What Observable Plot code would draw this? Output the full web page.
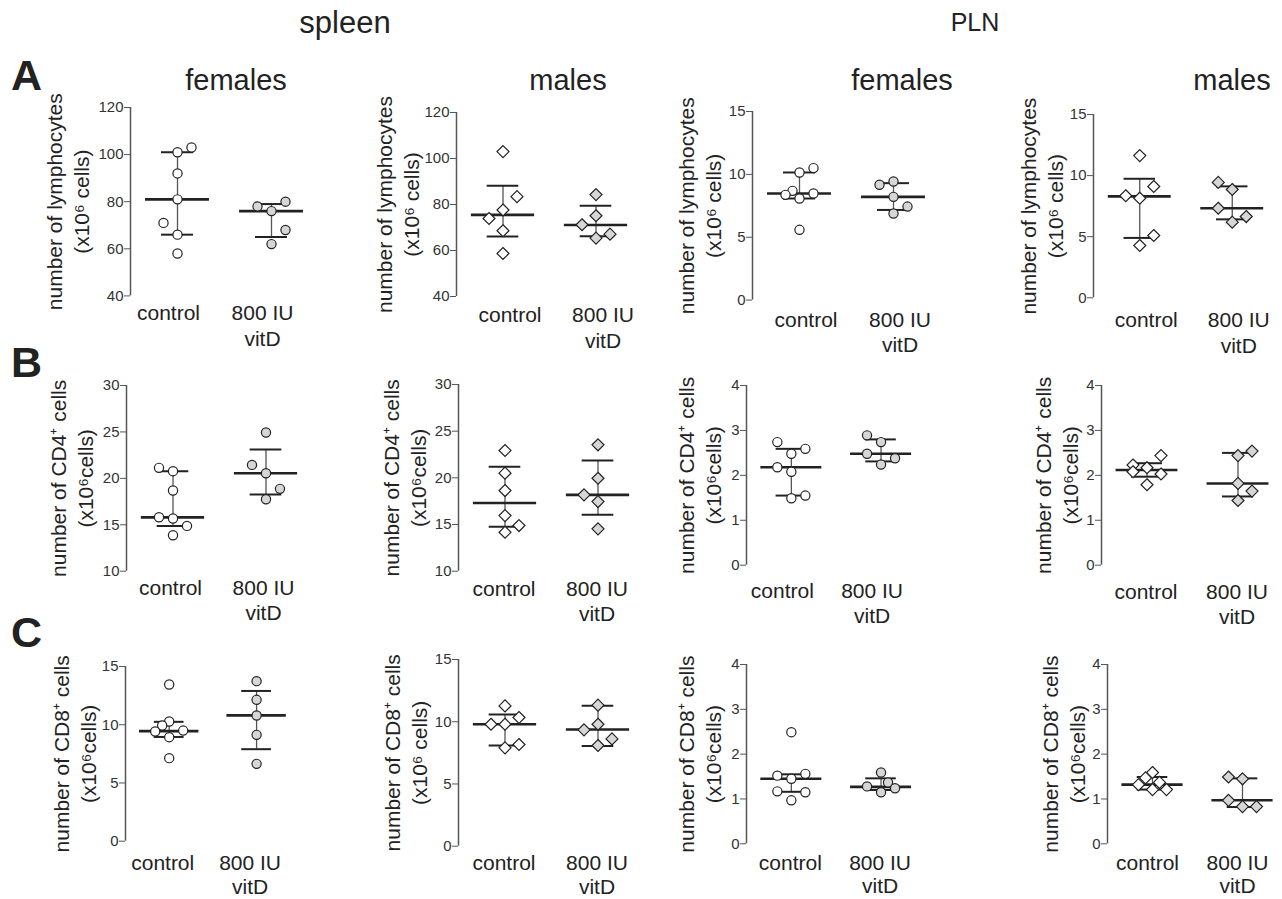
<!DOCTYPE html>
<html>
<head>
<meta charset="utf-8">
<script src="https://cdn.jsdelivr.net/npm/d3@7"></script>
<script src="https://cdn.jsdelivr.net/npm/@observablehq/plot@0.6"></script>
<style>
  body { margin: 0; background: #fff; }
  #root { position: relative; width: 1282px; height: 899px; font-family: "Liberation Sans", Arial, sans-serif; overflow: hidden; }
  #root svg { position: absolute; }
  #root svg g[aria-label="y-axis tick label"] { font-size: 15px !important; }
  #root svg g[aria-label="y-axis tick label"] text { font-size: 15px !important; }
</style>
</head>
<body>
<div id="root"></div>
<script>
// ---------- tick / category labels ----------
const catLine1 = ["control", "800 IU"];
const catLine2 = ["", "vitD"];
const ticksLym = [40, 60, 80, 100, 120];
const ticks15 = [0, 5, 10, 15];
const ticks30 = [10, 15, 20, 25, 30];
const ticks4 = [0, 1, 2, 3, 4];

// ---------- values (x10^6 cells); jitter = column slot seen in picture; stats = [Q1, median, Q3] ----------
// A: lymphocytes
const A1_ctrl = [101, 103, 92, 81, 71, 66, 58];          const A1_ctrlJit = [0, 1, 0, 0, -1, 0, 0];
const A1_vitd = [78, 80, 76, 68, 62];                    const A1_vitdJit = [-1, 1, 0, 1, 0];
const A1_ctrlStats = [66, 81, 101];                      const A1_vitdStats = [65, 76, 79];

const A2_ctrl = [103, 83.4, 77.6, 73.9, 68.6, 58.7];     const A2_ctrlJit = [0, 1, 0, -1, 0, 0];
const A2_vitd = [84.3, 75.1, 71.2, 65.4, 67.1];          const A2_vitdJit = [0, 0, -1, 0, 1];
const A2_ctrlStats = [66.1, 75.5, 88.1];                 const A2_vitdStats = [66.2, 71.1, 79.5];

const A3_ctrl = [10.15, 10.5, 8.69, 8.37, 8.08, 8.48, 5.59]; const A3_ctrlJit = [0, 1, -0.5, -1, 0, 1, 0];
const A3_vitd = [9.17, 9.43, 8.21, 7.44, 6.89];          const A3_vitdJit = [-1, 0, 0, 1, 0];
const A3_ctrlStats = [8.08, 8.48, 10.15];                const A3_vitdStats = [7.17, 8.21, 9.3];

const A4_ctrl = [11.64, 9.11, 8.35, 8.15, 5.1, 4.28];    const A4_ctrlJit = [0, 1, -1, 0, 1, 0];
const A4_vitd = [9.44, 8.86, 7.33, 6.19, 6.65];          const A4_vitdJit = [-1, 0, -1, 0, 1];
const A4_ctrlStats = [4.9, 8.3, 9.74];                   const A4_vitdStats = [6.42, 7.33, 9.12];

// B: CD4+ cells
const B1_ctrl = [21.13, 20.77, 18.69, 15.81, 15.67, 14.88, 13.87]; const B1_ctrlJit = [-1, 0, 0, -1, 0, 1, 0];
const B1_vitd = [24.94, 21.45, 20.55, 18.87, 17.75];     const B1_vitdJit = [0, -1, 0, 1, 0];
const B1_ctrlStats = [14.88, 15.8, 20.77];               const B1_vitdStats = [18.25, 20.55, 23.1];

const B2_ctrl = [22.93, 20.5, 18.64, 15.96, 14.89, 14.17]; const B2_ctrlJit = [0, 0, 0, 0, 1, 0];
const B2_vitd = [23.54, 19.96, 18.18, 17.46, 14.54];     const B2_vitdJit = [0, 0, -1, 0, 0];
const B2_ctrlStats = [14.75, 17.3, 21.2];                const B2_vitdStats = [16.05, 18.18, 21.85];

const B3_ctrl = [2.74, 2.59, 2.48, 2.18, 2.08, 1.49, 1.55]; const B3_ctrlJit = [-1, 1, 0, -1, 0, 0, 1];
const B3_vitd = [2.89, 2.74, 2.48, 2.38, 2.24];          const B3_vitdJit = [-1, 0, -1, 1, 0];
const B3_ctrlStats = [1.55, 2.18, 2.59];                 const B3_vitdStats = [2.31, 2.48, 2.8];

const B4_ctrl = [2.44, 2.23, 2.17, 2.03, 2.08, 1.79];    const B4_ctrlJit = [1, -1, 0, 1, -1, 0];
const B4_vitd = [2.44, 2.54, 1.82, 1.65, 1.44];          const B4_vitdJit = [0, 1, 0, 1, 0];
const B4_ctrlStats = [1.97, 2.12, 2.27];                 const B4_vitdStats = [1.53, 1.82, 2.5];

// C: CD8+ cells
const C1_ctrl = [13.45, 10.28, 9.93, 9.42, 9.5, 8.93, 7.13]; const C1_ctrlJit = [0, 0, -0.5, -1, 1, 0, 0];
const C1_vitd = [13.74, 12.14, 10.79, 9.13, 6.64];       const C1_vitdJit = [0, 0, 0, 0, 0];
const C1_ctrlStats = [8.95, 9.45, 10.25];                const C1_vitdStats = [7.9, 10.8, 12.9];

const C2_ctrl = [11.27, 10.34, 9.8, 9.8, 8.17, 7.9];     const C2_ctrlJit = [0, 1, -1, 0, 1, 0];
const C2_vitd = [11.33, 9.8, 9.35, 8.62, 8.09];          const C2_vitdJit = [0, 0, -1, 1, 0];
const C2_ctrlStats = [8.1, 9.8, 10.58];                  const C2_vitdStats = [8.05, 9.37, 11.28];

const C3_ctrl = [2.49, 1.52, 1.56, 1.45, 1.17, 1.15, 0.97]; const C3_ctrlJit = [0, -1, 1, 0, -1, 1, 0];
const C3_vitd = [1.59, 1.37, 1.28, 1.24, 1.15];          const C3_vitdJit = [0, 0.5, -1, 1, 0];
const C3_ctrlStats = [1.16, 1.45, 1.55];                 const C3_vitdStats = [1.2, 1.27, 1.46];

const C4_ctrl = [1.59, 1.47, 1.32, 1.37, 1.21, 1.21];    const C4_ctrlJit = [0, -0.5, -1, 0.5, 0, 1];
const C4_vitd = [1.49, 1.45, 0.97, 0.83, 0.83];          const C4_vitdJit = [-1, 0, -1, 0, 1];
const C4_ctrlStats = [1.21, 1.32, 1.49];                 const C4_vitdStats = [0.82, 0.97, 1.46];

// ---------- axis titles ----------
const lymLabel = ["number of lymphocytes", "(x10\u2076 cells)"];
const cd4Label = ["number of CD4\u207A cells", "(x10\u2076cells)"];
const cd8Label = ["number of CD8\u207A cells", "(x10\u2076cells)"];
const cd8LabelSp = ["number of CD8\u207A cells", "(x10\u2076 cells)"];

// ---------- layout (pixel placement of each panel) ----------
const panels = [
  {d:[A1_ctrl,A1_ctrlJit,A1_vitd,A1_vitdJit,A1_ctrlStats,A1_vitdStats], shape:"circle",  dom:[40,120], ticks:ticksLym, lab:lymLabel, ax:130,    top:107.3, bot:295.7, fw:188,   ldx:-75,  cdx:-9,  cdy:9.5,  lh:25.6},
  {d:[A2_ctrl,A2_ctrlJit,A2_vitd,A2_vitdJit,A2_ctrlStats,A2_vitdStats], shape:"diamond", dom:[40,120], ticks:ticksLym, lab:lymLabel, ax:456,    top:111.7, bot:295.7, fw:186,   ldx:-71,  cdx:7,   cdy:11,   lh:25.6},
  {d:[A3_ctrl,A3_ctrlJit,A3_vitd,A3_vitdJit,A3_ctrlStats,A3_vitdStats], shape:"circle",  dom:[0,15],   ticks:ticks15,  lab:lymLabel, ax:751.7,  top:110.7, bot:299.3, fw:188,   ldx:-65,  cdx:6.5, cdy:11.5, lh:25.6},
  {d:[A4_ctrl,A4_ctrlJit,A4_vitd,A4_vitdJit,A4_ctrlStats,A4_vitdStats], shape:"diamond", dom:[0,15],   ticks:ticks15,  lab:lymLabel, ax:1092.7, top:114,   bot:297.3, fw:185,   ldx:-64.4,cdx:6.5, cdy:14.5, lh:25.6},
  {d:[B1_ctrl,B1_ctrlJit,B1_vitd,B1_vitdJit,B1_ctrlStats,B1_vitdStats], shape:"circle",  dom:[10,30],  ticks:ticks30,  lab:cd4Label, ax:126,    top:385,   bot:570.7, fw:186,   ldx:-67.7,cdx:-2.5,cdy:8.5,  lh:25.6},
  {d:[B2_ctrl,B2_ctrlJit,B2_vitd,B2_vitdJit,B2_ctrlStats,B2_vitdStats], shape:"diamond", dom:[10,30],  ticks:ticks30,  lab:cd4Label, ax:457.7,  top:384,   bot:570.7, fw:186,   ldx:-66,  cdx:-1,  cdy:9.5,  lh:25.6},
  {d:[B3_ctrl,B3_ctrlJit,B3_vitd,B3_vitdJit,B3_ctrlStats,B3_vitdStats], shape:"circle",  dom:[0,4],    ticks:ticks4,   lab:cd4Label, ax:746,    top:385,   bot:564.7, fw:179.4, ldx:-59.3,cdx:-9,  cdy:17.5, lh:25.6},
  {d:[B4_ctrl,B4_ctrlJit,B4_vitd,B4_vitdJit,B4_ctrlStats,B4_vitdStats], shape:"diamond", dom:[0,4],    ticks:ticks4,   lab:cd4Label, ax:1101,   top:385,   bot:564.7, fw:182,   ldx:-57.7,cdx:-1,  cdy:18.5, lh:25.6},
  {d:[C1_ctrl,C1_ctrlJit,C1_vitd,C1_vitdJit,C1_ctrlStats,C1_vitdStats], shape:"circle",  dom:[0,15],   ticks:ticks15,  lab:cd8Label, ax:125,    top:666,   bot:840.7, fw:174.8, ldx:-63.3,cdx:-6.5,cdy:14,   lh:23.5},
  {d:[C2_ctrl,C2_ctrlJit,C2_vitd,C2_vitdJit,C2_ctrlStats,C2_vitdStats], shape:"diamond", dom:[0,15],   ticks:ticks15,  lab:cd8LabelSp,ax:458.3, top:659.3, bot:846,   fw:186,   ldx:-65,  cdx:-1,  cdy:9,    lh:23.5},
  {d:[C3_ctrl,C3_ctrlJit,C3_vitd,C3_vitdJit,C3_ctrlStats,C3_vitdStats], shape:"circle",  dom:[0,4],    ticks:ticks4,   lab:cd8Label, ax:746,    top:664,   bot:843.3, fw:179.4, ldx:-59.3,cdx:-1,  cdy:11,   lh:23.5},
  {d:[C4_ctrl,C4_ctrlJit,C4_vitd,C4_vitdJit,C4_ctrlStats,C4_vitdStats], shape:"diamond", dom:[0,4],    ticks:ticks4,   lab:cd8Label, ax:1106.7, top:664,   bot:843.3, fw:180,   ldx:-56.7,cdx:-5,  cdy:11,   lh:23.5}
];

const root = document.getElementById("root");
const ML = 100, MR = 20, MT = 14, MB = 70;
const slotPx = 14;
const font = '"Liberation Sans", Arial, sans-serif';

function makePanel(p) {
  const [ctrl, ctrlJit, vitd, vitdJit, cs, vs] = p.d;
  const fh = p.bot - p.top;
  const slot = slotPx / (p.fw / 2);
  const ctrlRows = ctrl.map((v, i) => ({x: 0.5 + ctrlJit[i] * slot, y: v}));
  const vitdRows = vitd.map((v, i) => ({x: 1.5 + vitdJit[i] * slot, y: v}));
  const stats = [
    {g: 0.5, q1: cs[0], med: cs[1], q3: cs[2]},
    {g: 1.5, q1: vs[0], med: vs[1], q3: vs[2]}
  ];
  const symbol = p.shape === "diamond" ? "diamond2" : "circle";
  const r = p.shape === "diamond" ? 5.4 : 4.6;
  const dotOpts = {x: "x", y: "y", r, symbol, stroke: "#222", strokeWidth: 1.2};
  const svg = Plot.plot({
    width: ML + p.fw + MR,
    height: MT + fh + MB,
    marginLeft: ML, marginRight: MR, marginTop: MT, marginBottom: MB,
    x: {domain: [0, 2], axis: null},
    y: {domain: p.dom, label: null},
    style: {background: "transparent", overflow: "visible", fontFamily: font, fontSize: "15px", color: "#333"},
    marks: [
      Plot.axisY({ticks: p.ticks, tickSize: 6, tickPadding: 1, label: null, stroke: "#555", fill: "#333",
                  fontSize: 15, tickFormat: d => String(d)}),
      Plot.ruleX([0], {y1: p.dom[0], y2: p.dom[1], stroke: "#555", strokeWidth: 1.5}),
      Plot.ruleX(stats, {x: "g", y1: "q1", y2: "q3", stroke: "#555", strokeWidth: 1.3}),
      Plot.ruleY(stats, {y: "q1", x1: d => d.g - 0.17, x2: d => d.g + 0.17, stroke: "#222", strokeWidth: 2}),
      Plot.ruleY(stats, {y: "q3", x1: d => d.g - 0.17, x2: d => d.g + 0.17, stroke: "#222", strokeWidth: 2}),
      Plot.ruleY(stats, {y: "med", x1: d => d.g - 0.34, x2: d => d.g + 0.34, stroke: "#222", strokeWidth: 2.6}),
      Plot.dot(ctrlRows, {...dotOpts, fill: "white"}),
      Plot.dot(vitdRows, {...dotOpts, fill: "#d6d6d6"}),
      Plot.text([p.lab[0]], {frameAnchor: "left", rotate: -90, dx: p.ldx, textAnchor: "middle", lineAnchor: "middle", fontSize: 21, fill: "#222"}),
      Plot.text([p.lab[1]], {frameAnchor: "left", rotate: -90, dx: p.ldx + 27, textAnchor: "middle", lineAnchor: "middle", fontSize: 21, fill: "#222"}),
      Plot.text(catLine1, {x: [0.5, 1.5], frameAnchor: "bottom", dx: p.cdx, dy: p.cdy, lineAnchor: "top", fontSize: 21, fill: "#222"}),
      Plot.text(catLine2, {x: [0.5, 1.5], frameAnchor: "bottom", dx: p.cdx, dy: p.cdy + p.lh, lineAnchor: "top", fontSize: 21, fill: "#222"})
    ]
  });
  svg.style.left = (p.ax - ML) + "px";
  svg.style.top = (p.top - MT) + "px";
  svg.style.maxWidth = "none";
  svg.querySelectorAll('g[aria-label="y-axis tick label"]').forEach(g => {
    g.setAttribute("font-size", 15);
    g.style.fontSize = "15px";
  });
  root.appendChild(svg);
}
panels.forEach(makePanel);

// ---------- headings ----------
const headings = [
  {t: "spleen",  x: 345,  y: 33, size: 31, w: "normal", a: "middle"},
  {t: "PLN",     x: 975,  y: 31, size: 25, w: "normal", a: "middle"},
  {t: "females", x: 236,  y: 90, size: 29, w: "normal", a: "middle"},
  {t: "males",   x: 568,  y: 90, size: 29, w: "normal", a: "middle"},
  {t: "females", x: 902,  y: 90, size: 29, w: "normal", a: "middle"},
  {t: "males",   x: 1232, y: 90, size: 29, w: "normal", a: "middle"},
  {t: "A",       x: 11,   y: 90, size: 43, w: "bold",   a: "start"},
  {t: "B",       x: 11,   y: 377, size: 43, w: "bold",  a: "start"},
  {t: "C",       x: 11,   y: 647, size: 43, w: "bold",  a: "start"}
];
const hs = d3.select(root).append("svg")
  .attr("width", 1282).attr("height", 899)
  .style("left", "0px").style("top", "0px").style("pointer-events", "none")
  .attr("font-family", font);
hs.selectAll("text").data(headings).join("text")
  .attr("x", d => d.x).attr("y", d => d.y)
  .attr("text-anchor", d => d.a)
  .attr("font-size", d => d.size)
  .attr("font-weight", d => d.w)
  .attr("fill", "#222")
  .text(d => d.t);
</script>
</body>
</html>
